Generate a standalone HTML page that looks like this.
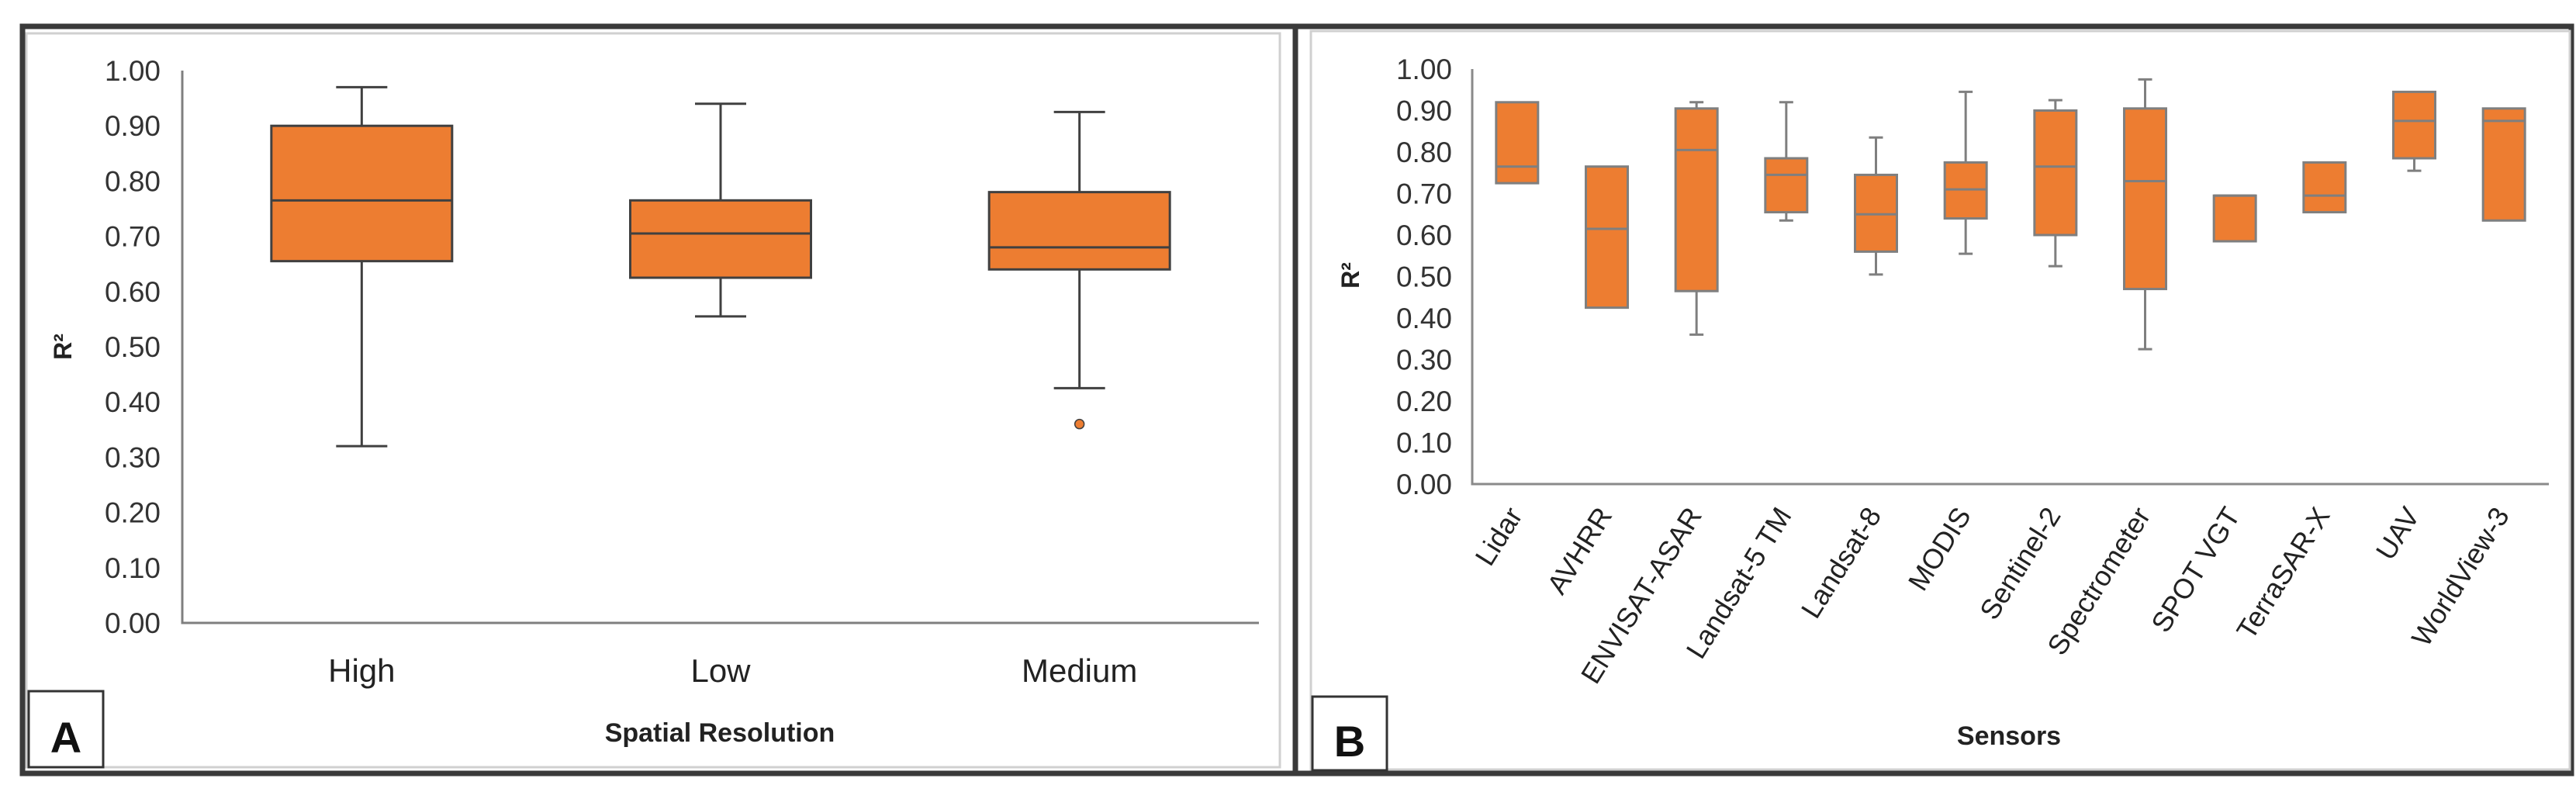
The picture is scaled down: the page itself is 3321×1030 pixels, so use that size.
<!DOCTYPE html>
<html><head><meta charset="utf-8"><style>
html,body{margin:0;padding:0;background:#fff;}
svg{display:block;font-family:"Liberation Sans",sans-serif;}
</style></head><body>
<svg id="fig" width="3321" height="1030" viewBox="0 0 3321 1030" xmlns="http://www.w3.org/2000/svg">
<rect x="0" y="0" width="3321" height="1030" fill="#fff"/>
<rect x="29" y="34" width="3286" height="963" fill="none" stroke="#3a3a3a" stroke-width="7"/>
<line x1="1670" y1="34" x2="1670" y2="997" stroke="#3a3a3a" stroke-width="7"/>
<rect x="34" y="43" width="1616" height="946" fill="none" stroke="#d0d0d0" stroke-width="3"/>
<rect x="1690" y="40" width="1623" height="952" fill="none" stroke="#d0d0d0" stroke-width="3"/>
<g id="pa"></g>
<g id="pb"></g>
</svg>
<script>
// Panel A data
const catsA = ["High","Low","Medium"];
const maxA = [0.97,0.94,0.925];
const q3A  = [0.90,0.765,0.78];
const medA = [0.765,0.705,0.68];
const q1A  = [0.655,0.625,0.64];
const minA = [0.32,0.555,0.425];
const outA = [[],[],[0.36]];
// Panel B data
const catsB = ["Lidar","AVHRR","ENVISAT-ASAR","Landsat-5 TM","Landsat-8","MODIS","Sentinel-2","Spectrometer","SPOT VGT","TerraSAR-X","UAV","WorldView-3"];
const maxB = [0.92,0.765,0.92,0.92,0.835,0.945,0.925,0.975,0.695,0.775,0.945,0.905];
const q3B  = [0.92,0.765,0.905,0.785,0.745,0.775,0.90,0.905,0.695,0.775,0.945,0.905];
const medB = [0.765,0.615,0.805,0.745,0.65,0.71,0.765,0.73,0.695,0.695,0.875,0.875];
const q1B  = [0.725,0.425,0.465,0.655,0.56,0.64,0.60,0.47,0.585,0.655,0.785,0.635];
const minB = [0.725,0.425,0.36,0.635,0.505,0.555,0.525,0.325,0.585,0.655,0.755,0.635];
const ticks = ["0.00","0.10","0.20","0.30","0.40","0.50","0.60","0.70","0.80","0.90","1.00"];

const NS="http://www.w3.org/2000/svg";
function mk(parent,tag,attrs,text){const e=document.createElementNS(NS,tag);for(const k in attrs)e.setAttribute(k,attrs[k]);if(text!==undefined)e.textContent=text;parent.appendChild(e);return e;}

function panel(g,cfg){
  const y=v=>cfg.y0+(cfg.y1-cfg.y0)*v;
  const n=cfg.cats.length, bw=(cfg.xr-cfg.xl)/n;
  const x=i=>cfg.xl+bw*(i+0.5);
  ticks.forEach((t,i)=>{const el=mk(g,'text',{x:cfg.tickX,y:y(i/10)+13,'text-anchor':'end','font-size':37,fill:'#333'},t);
    
    });
  const ax=mk(g,'path',{d:`M${cfg.xl} ${y(1)} V${y(0)} H${cfg.xr}`,fill:'none',stroke:cfg.axisCol,'stroke-width':3});
  
  
  cfg.cats.forEach((c,i)=>{
    const cx=x(i), hw=cfg.boxW/2;
    const bg=mk(g,'g',{});
    
    
    const s={stroke:cfg.stroke,'stroke-width':3,fill:'none'};
    if(cfg.max[i]>cfg.q3[i]){mk(bg,'line',Object.assign({x1:cx,x2:cx,y1:y(cfg.max[i]),y2:y(cfg.q3[i])},s));mk(bg,'line',Object.assign({x1:cx-cfg.capW/2,x2:cx+cfg.capW/2,y1:y(cfg.max[i]),y2:y(cfg.max[i])},s));}
    if(cfg.min[i]<cfg.q1[i]){mk(bg,'line',Object.assign({x1:cx,x2:cx,y1:y(cfg.q1[i]),y2:y(cfg.min[i])},s));mk(bg,'line',Object.assign({x1:cx-cfg.capW/2,x2:cx+cfg.capW/2,y1:y(cfg.min[i]),y2:y(cfg.min[i])},s));}
    mk(bg,'rect',{x:cx-hw,y:y(cfg.q3[i]),width:cfg.boxW,height:y(cfg.q1[i])-y(cfg.q3[i]),fill:'#ED7D31',stroke:cfg.stroke,'stroke-width':3});
    mk(bg,'line',Object.assign({x1:cx-hw,x2:cx+hw,y1:y(cfg.med[i]),y2:y(cfg.med[i])},s));
    (cfg.out?cfg.out[i]:[]).forEach(o=>{const d=mk(bg,'circle',{cx:cx,cy:y(o),r:6,fill:'#ED7D31',stroke:cfg.stroke,'stroke-width':1.5});
      
      });
    let lab;
    if(cfg.rot){lab=mk(g,'text',{x:cx+8,y:cfg.labY,'text-anchor':'end','font-size':36,fill:'#222',transform:`rotate(-58 ${cx+8} ${cfg.labY})`},c);}
    else{lab=mk(g,'text',{x:cx,y:cfg.labY,'text-anchor':'middle','font-size':42,fill:'#222'},c);}
    
    
  });
}
const pa=document.getElementById('pa'), pb=document.getElementById('pb');
panel(pa,{cats:catsA,max:maxA,q3:q3A,med:medA,q1:q1A,min:minA,out:outA,y0:803,y1:91,xl:235,xr:1623,boxW:233,capW:66,stroke:'#404040',axisCol:'#7f7f7f',tickX:207,labY:879,rot:false});
panel(pb,{cats:catsB,max:maxB,q3:q3B,med:medB,q1:q1B,min:minB,y0:624,y1:89,xl:1898,xr:3286,boxW:54,capW:18,stroke:'#7f7f7f',axisCol:'#8a8a8a',tickX:1872,labY:664,rot:true});
function txt(g,a,t,name){const e=mk(g,'text',a,t);return e;}
txt(pa,{x:92,y:447,'text-anchor':'middle','font-size':32,'font-weight':'bold',fill:'#222',transform:'rotate(-90 92 447)'},'R²','y-axis-title');
txt(pa,{x:928,y:956,'text-anchor':'middle','font-size':34,'font-weight':'bold',fill:'#222'},'Spatial Resolution','x-axis-title');
txt(pb,{x:1752,y:355,'text-anchor':'middle','font-size':32,'font-weight':'bold',fill:'#222',transform:'rotate(-90 1752 355)'},'R²','y-axis-title');
txt(pb,{x:2590,y:960,'text-anchor':'middle','font-size':34,'font-weight':'bold',fill:'#222'},'Sensors','x-axis-title');
const la=mk(pa,'rect',{x:37,y:891,width:96,height:98,fill:'#fff',stroke:'#333','stroke-width':3});


txt(pa,{x:85,y:970,'text-anchor':'middle','font-size':56,'font-weight':'bold',fill:'#111'},'A','panel-label-a');
const lb=mk(pb,'rect',{x:1692,y:898,width:96,height:95,fill:'#fff',stroke:'#333','stroke-width':3});


txt(pb,{x:1740,y:975,'text-anchor':'middle','font-size':56,'font-weight':'bold',fill:'#111'},'B','panel-label-b');
</script>
</body></html>
